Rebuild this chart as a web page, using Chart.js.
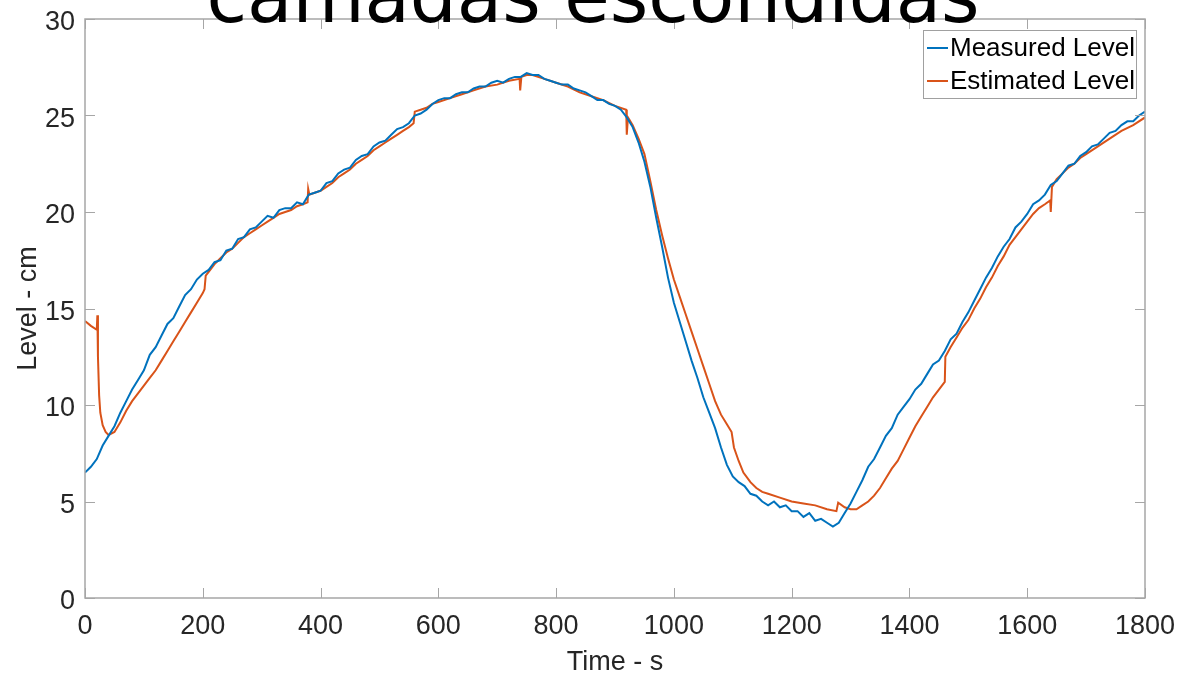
<!DOCTYPE html>
<html>
<head>
<meta charset="utf-8">
<script src="https://cdn.jsdelivr.net/npm/chart.js@4/dist/chart.umd.min.js"></script>
<style>
  body { margin: 0; background: #ffffff; }
</style>
</head>
<body>
<canvas id="levelChart" width="1182" height="677"></canvas>
<script>
// tick values
var timeTicks = [0, 200, 400, 600, 800, 1000, 1200, 1400, 1600, 1800];
var levelTicks = [0, 5, 10, 15, 20, 25, 30];

// measured level (blue)
var measuredTime = [
    0, 10, 20, 30, 40, 50, 60, 70, 80, 90,
    100, 110, 120, 130, 140, 150, 160, 170, 180, 190,
    200, 210, 220, 230, 240, 250, 260, 270, 280, 290,
    300, 310, 320, 330, 340, 350, 360, 370, 380, 390,
    400, 410, 420, 430, 440, 450, 460, 470, 480, 490,
    500, 510, 520, 530, 540, 550, 560, 570, 580, 590,
    600, 610, 620, 630, 640, 650, 660, 670, 680, 690,
    700, 710, 720, 730, 740, 750, 760, 770, 780, 790,
    800, 810, 820, 830, 840, 850, 860, 870, 880, 890,
    900, 910, 920, 930, 940, 950, 960, 970, 980, 990,
    1000, 1010, 1020, 1030, 1040, 1050, 1060, 1070, 1080, 1090,
    1100, 1110, 1120, 1130, 1140, 1150, 1160, 1170, 1180, 1190,
    1200, 1210, 1220, 1230, 1240, 1250, 1260, 1270, 1280, 1290,
    1300, 1310, 1320, 1330, 1340, 1350, 1360, 1370, 1380, 1390,
    1400, 1410, 1420, 1430, 1440, 1450, 1460, 1470, 1480, 1490,
    1500, 1510, 1520, 1530, 1540, 1550, 1560, 1570, 1580, 1590,
    1600, 1610, 1620, 1630, 1640, 1650, 1660, 1670, 1680, 1690,
    1700, 1710, 1720, 1730, 1740, 1750, 1760, 1770, 1780, 1790,
    1800
];
var measuredLevel = [
    6.5, 6.8, 7.2, 7.9, 8.4, 8.9, 9.6, 10.2, 10.8, 11.3,
    11.8, 12.6, 13.0, 13.6, 14.2, 14.5, 15.1, 15.7, 16.0, 16.5,
    16.8, 17.0, 17.4, 17.5, 18.0, 18.1, 18.6, 18.7, 19.1, 19.2,
    19.5, 19.8, 19.7, 20.1, 20.2, 20.2, 20.5, 20.4, 20.9, 21.0,
    21.1, 21.5, 21.6, 22.0, 22.2, 22.3, 22.7, 22.9, 23.0, 23.4,
    23.6, 23.7, 24.0, 24.3, 24.4, 24.6, 25.0, 25.1, 25.3, 25.6,
    25.8, 25.9, 25.9, 26.1, 26.2, 26.2, 26.4, 26.5, 26.5, 26.7,
    26.8, 26.7, 26.9, 27.0, 27.0, 27.2, 27.1, 27.1, 26.9, 26.8,
    26.7, 26.6, 26.6, 26.4, 26.3, 26.2, 26.0, 25.8, 25.8, 25.6,
    25.5, 25.3, 24.9, 24.4, 23.6, 22.6, 21.3, 19.7, 18.2, 16.6,
    15.3, 14.3, 13.3, 12.3, 11.4, 10.4, 9.6, 8.8, 7.8, 6.9,
    6.3, 6.0, 5.8, 5.4, 5.3, 5.0, 4.8, 5.0, 4.7, 4.8,
    4.5, 4.5, 4.2, 4.4, 4.0, 4.1, 3.9, 3.7, 3.9, 4.4,
    4.9, 5.5, 6.1, 6.8, 7.2, 7.8, 8.4, 8.8, 9.5, 9.9,
    10.3, 10.8, 11.1, 11.6, 12.1, 12.3, 12.8, 13.4, 13.7, 14.3,
    14.8, 15.4, 16.0, 16.6, 17.1, 17.7, 18.2, 18.6, 19.2, 19.5,
    19.9, 20.4, 20.6, 20.9, 21.4, 21.6, 22.0, 22.4, 22.5, 22.9,
    23.1, 23.4, 23.5, 23.8, 24.1, 24.2, 24.5, 24.7, 24.7, 25.0,
    25.2
];

// estimated level (orange)
var estimatedTime = [
    0, 10, 20, 21, 22, 24, 26, 30, 35, 40, 50, 60, 70, 80, 90,
    100, 110, 120, 130, 140, 150, 160, 170, 180, 190, 200, 203, 205, 210, 220,
    230, 240, 250, 260, 270, 280, 290, 300, 310, 320, 330, 340, 350, 360, 370,
    378, 379, 381, 390, 400, 410, 420, 430, 440, 450, 460, 470, 480, 490, 500,
    510, 520, 530, 540, 550, 558, 560, 570, 580, 590, 600, 620, 640, 660, 680,
    700, 720, 738, 739, 741, 750, 760, 780, 800, 820, 840, 860, 880, 900, 919,
    920, 922, 924, 930, 940, 950, 960, 970, 980, 990, 1000, 1010, 1020, 1030, 1040,
    1050, 1060, 1070, 1080, 1090, 1098, 1102, 1110, 1118, 1130, 1140, 1150, 1160, 1180, 1200,
    1220, 1240, 1260, 1276, 1279, 1290, 1300, 1310, 1320, 1330, 1340, 1350, 1360, 1370, 1380,
    1390, 1400, 1410, 1420, 1430, 1440, 1450, 1460, 1461, 1470, 1480, 1490, 1500, 1510, 1520,
    1530, 1540, 1550, 1560, 1570, 1580, 1590, 1600, 1610, 1620, 1630, 1639, 1640, 1642, 1650,
    1660, 1670, 1680, 1690, 1700, 1720, 1740, 1760, 1780, 1800
];
var estimatedLevel = [
    14.35, 14.1, 13.9, 14.65, 12.5, 10.5, 9.6, 8.95, 8.6, 8.45, 8.6, 9.1, 9.7, 10.2, 10.6,
    11.0, 11.4, 11.8, 12.3, 12.8, 13.3, 13.8, 14.3, 14.8, 15.3, 15.8, 16.0, 16.7, 16.9, 17.3,
    17.6, 17.9, 18.1, 18.4, 18.7, 18.9, 19.1, 19.3, 19.5, 19.7, 19.9, 20.0, 20.1, 20.3, 20.4,
    20.5, 21.2, 20.9, 21.0, 21.1, 21.3, 21.5, 21.8, 22.0, 22.2, 22.5, 22.7, 22.9, 23.2, 23.4,
    23.6, 23.8, 24.0, 24.2, 24.4, 24.6, 25.2, 25.3, 25.4, 25.6, 25.7, 25.9, 26.1, 26.3, 26.5,
    26.6, 26.8, 26.9, 26.3, 27.0, 27.1, 27.1, 26.9, 26.7, 26.5, 26.2, 26.0, 25.8, 25.5, 25.3,
    24.0, 24.9, 24.8, 24.5, 23.8, 23.0, 21.6, 20.1, 18.8, 17.6, 16.5, 15.6, 14.7, 13.8, 12.9,
    12.0, 11.1, 10.2, 9.5, 9.0, 8.6, 7.8, 7.1, 6.5, 6.0, 5.7, 5.5, 5.4, 5.2, 5.0,
    4.9, 4.8, 4.6, 4.5, 4.94, 4.7, 4.6, 4.6, 4.8, 5.0, 5.3, 5.7, 6.2, 6.7, 7.1,
    7.7, 8.3, 8.9, 9.4, 9.9, 10.4, 10.8, 11.2, 12.5, 13.0, 13.5, 14.0, 14.4, 15.0, 15.5,
    16.1, 16.6, 17.2, 17.7, 18.3, 18.7, 19.1, 19.5, 19.9, 20.2, 20.4, 20.6, 20.0, 21.3, 21.7,
    22.0, 22.3, 22.5, 22.8, 23.0, 23.4, 23.8, 24.2, 24.5, 24.9
];

function toPoints(xs, ys) {
    var pts = [];
    for (var i = 0; i < xs.length; i++) pts.push({ x: xs[i], y: ys[i] });
    return pts;
}

var axisFont = { family: '"Liberation Sans", Arial, sans-serif', size: 27 };
var textColor = '#262626';
var boxColor = '#a6a6a6';

// MATLAB style box with inward ticks on all four sides
var boxPlugin = {
    id: 'boxPlugin',
    afterDatasetsDraw: function(chart) {
        var ctx = chart.ctx;
        var a = chart.chartArea;
        var xs = chart.scales.x, ys = chart.scales.y;
        ctx.save();
        ctx.strokeStyle = boxColor;
        ctx.lineWidth = 1.5;
        ctx.strokeRect(a.left, a.top, a.right - a.left, a.bottom - a.top);
        ctx.lineWidth = 1;
        ctx.beginPath();
        xs.ticks.forEach(function(t) {
            var px = Math.round(xs.getPixelForValue(t.value)) + 0.5;
            ctx.moveTo(px, a.bottom); ctx.lineTo(px, a.bottom - 10);
            ctx.moveTo(px, a.top); ctx.lineTo(px, a.top + 10);
        });
        ys.ticks.forEach(function(t) {
            var py = Math.round(ys.getPixelForValue(t.value)) + 0.5;
            ctx.moveTo(a.left, py); ctx.lineTo(a.left + 10, py);
            ctx.moveTo(a.right, py); ctx.lineTo(a.right - 10, py);
        });
        ctx.stroke();
        ctx.restore();
    }
};

// boxed legend in the top right corner
var legendPlugin = {
    id: 'boxLegend',
    afterDatasetsDraw: function(chart) {
        var ctx = chart.ctx;
        var left = 923, top = 30, w = 213, h = 68;
        ctx.save();
        ctx.fillStyle = '#ffffff';
        ctx.fillRect(left, top, w, h);
        ctx.strokeStyle = '#a0a0a0';
        ctx.lineWidth = 1;
        ctx.strokeRect(left + 0.5, top + 0.5, w, h);
        ctx.font = '26px "Liberation Sans", Arial, sans-serif';
        ctx.textBaseline = 'middle';
        ctx.fillStyle = '#000000';
        chart.data.datasets.forEach(function(ds, i) {
            var cy = top + 18 + i * 33;
            ctx.strokeStyle = ds.borderColor;
            ctx.lineWidth = 2;
            ctx.beginPath();
            ctx.moveTo(left + 4, cy);
            ctx.lineTo(left + 25, cy);
            ctx.stroke();
            ctx.fillText(ds.label, left + 27, cy + 1);
        });
        ctx.restore();
    }
};

// big title, clipped by the top of the canvas
var titlePlugin = {
    id: 'bigTitle',
    afterDraw: function(chart) {
        var ctx = chart.ctx;
        ctx.save();
        ctx.font = '74px "DejaVu Sans", sans-serif';
        ctx.fillStyle = '#000000';
        ctx.textAlign = 'center';
        ctx.textBaseline = 'alphabetic';
        ctx.fillText('camadas escondidas', 593, 22);
        ctx.restore();
    }
};

function plainLabel(value) {
    return String(value);
}

var ctx = document.getElementById('levelChart').getContext('2d');

new Chart(ctx, {
    type: 'line',
    data: {
        datasets: [
            {
                label: 'Measured Level',
                data: toPoints(measuredTime, measuredLevel),
                borderColor: '#0072BD',
                backgroundColor: '#0072BD',
                borderWidth: 2,
                pointRadius: 0,
                tension: 0
            },
            {
                label: 'Estimated Level',
                data: toPoints(estimatedTime, estimatedLevel),
                borderColor: '#D95319',
                backgroundColor: '#D95319',
                borderWidth: 2,
                pointRadius: 0,
                tension: 0
            }
        ]
    },
    options: {
        responsive: false,
        animation: false,
        layout: { padding: { top: 19, right: 37, left: 0, bottom: 0 } },
        plugins: {
            legend: { display: false },
            tooltip: { enabled: false }
        },
        scales: {
            x: {
                type: 'linear',
                min: 0,
                max: 1800,
                afterBuildTicks: function(scale) {
                    scale.ticks = timeTicks.map(function(v) { return { value: v }; });
                },
                afterFit: function(scale) {
                    scale.height = 79;
                    scale.paddingLeft = 0;
                    scale.paddingRight = 0;
                },
                grid: { display: false, drawTicks: false },
                border: { display: false },
                ticks: { font: axisFont, color: textColor, padding: 12, maxRotation: 0, callback: plainLabel },
                title: {
                    display: true,
                    text: 'Time - s',
                    font: axisFont,
                    color: textColor,
                    padding: { top: 0, bottom: -2 }
                }
            },
            y: {
                type: 'linear',
                min: 0,
                max: 30,
                afterBuildTicks: function(scale) {
                    scale.ticks = levelTicks.map(function(v) { return { value: v }; });
                },
                afterFit: function(scale) {
                    scale.width = 85;
                    scale.paddingTop = 0;
                    scale.paddingBottom = 0;
                },
                grid: { display: false, drawTicks: false },
                border: { display: false },
                ticks: { font: axisFont, color: textColor, padding: 10, labelOffset: 4, callback: plainLabel },
                title: {
                    display: true,
                    text: 'Level - cm',
                    font: axisFont,
                    color: textColor,
                    padding: { top: 12, bottom: 0 }
                }
            }
        }
    },
    plugins: [boxPlugin, legendPlugin, titlePlugin]
});
</script>
</body>
</html>
